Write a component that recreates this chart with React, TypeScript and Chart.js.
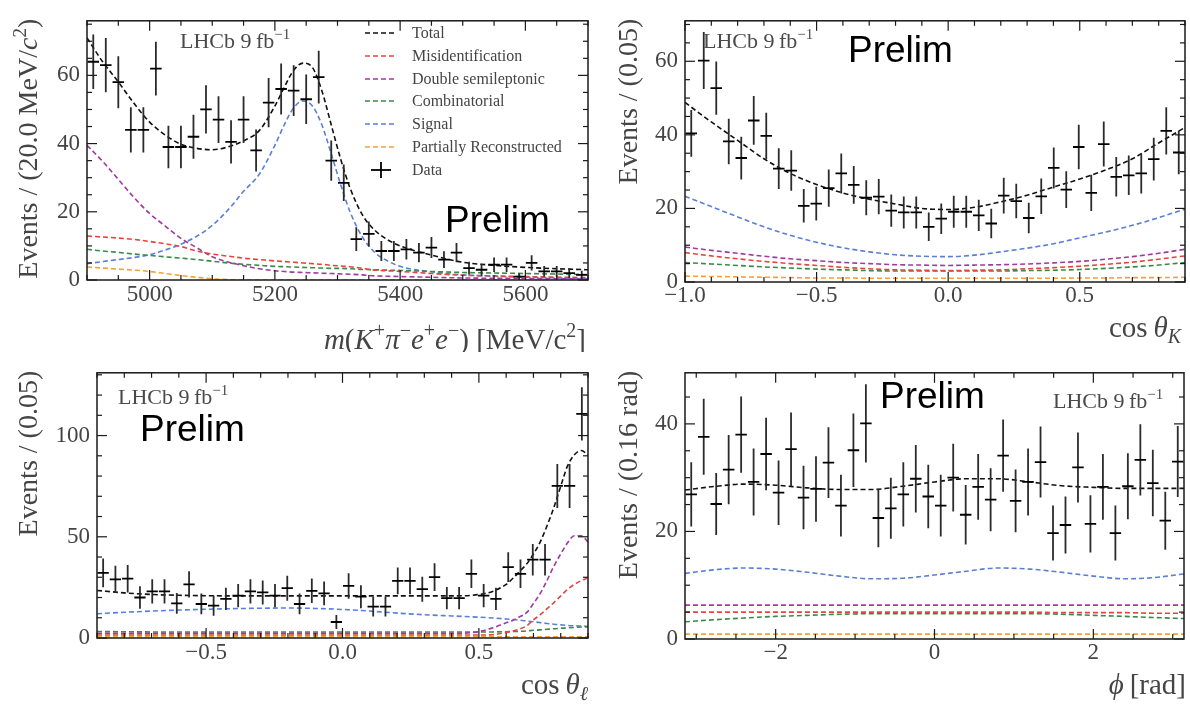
import React, { useEffect, useRef } from 'react';
import { Chart, registerables } from 'chart.js';

Chart.register(...registerables);

const SERIF = '"Liberation Serif", "DejaVu Serif", serif';
const SANS = '"Liberation Sans", Arial, sans-serif';
const TEXT_GREY = '#454545';

// ---------------- shared legend ----------------
const componentLabels = ['Total', 'Misidentification', 'Double semileptonic', 'Combinatorial', 'Signal', 'Partially Reconstructed'];
const componentColours = ['#111111', '#e4463e', '#a03a9e', '#3a8a48', '#5a7fd6', '#f2a23a'];

// ---------------- panel 1 : m(K pi e e) ----------------
const massRange = [4900, 5700];
const massCounts = [64, 63, 58, 44, 44, 62, 39, 39, 42, 50, 47, 40.5, 47, 38, 52, 56, 55.5, 53, 59.5, 35, 28.5, 12, 13.5, 8.5, 8.5, 9, 8, 9.5, 6, 8, 3.5, 3, 4.5, 4.5, 1, 5, 2.5, 2.5, 2, 1.5];
const massXTicks = [5000, 5200, 5400, 5600];
const massYTicks = [0, 20, 40, 60];
const massCurveX = [4900, 4925, 4950, 4975, 5000, 5025, 5050, 5075, 5100, 5125, 5150, 5175, 5200, 5215, 5230, 5245, 5260, 5275, 5290, 5305, 5320, 5340, 5360, 5380, 5400, 5450, 5500, 5550, 5600, 5650, 5700];
const massTotal = [71, 64, 58.1, 51.8, 46.3, 42.5, 39.8, 38.6, 38.2, 39, 40.8, 43.8, 51, 56.5, 61.5, 63.6, 62.3, 55.5, 45.5, 35.5, 27, 19, 14.5, 11.8, 10, 7.3, 5.2, 4.3, 3.7, 3.3, 3.0];
const massMisid = [12.9, 12.6, 12.3, 11.9, 11.3, 10.6, 9.8, 8.5, 7.6, 7.0, 6.4, 6.0, 5.6, 5.4, 5.2, 5.0, 4.8, 4.6, 4.3, 4.1, 3.9, 3.4, 2.9, 2.7, 2.5, 1.9, 1.4, 1.2, 1.0, 0.85, 0.7];
const massDoubleSL = [39.5, 34.8, 29.5, 24.2, 19.5, 15.8, 12.2, 9.5, 6.8, 5.3, 4.2, 3.3, 2.7, 2.5, 2.3, 2.2, 2.1, 2.0, 1.9, 1.8, 1.7, 1.5, 1.2, 1.1, 1.0, 0.8, 0.6, 0.5, 0.45, 0.38, 0.3];
const massComb = [9.0, 8.5, 8.1, 7.6, 7.2, 6.8, 6.4, 6.0, 5.5, 5.0, 4.6, 4.3, 4.0, 3.9, 3.8, 3.7, 3.6, 3.5, 3.4, 3.4, 3.3, 3.1, 3.0, 2.9, 2.8, 2.5, 2.2, 2.05, 1.9, 1.75, 1.6];
const massSignal = [4.8, 5.4, 6.0, 6.6, 7.4, 8.8, 10.5, 12.8, 16, 20.5, 26, 31, 39.5, 45.5, 50.5, 52.5, 51, 45.5, 37, 28, 20, 12.5, 8.0, 5.6, 4.0, 2.4, 1.5, 1.1, 0.8, 0.6, 0.4];
const massPartReco = [3.8, 3.5, 3.2, 2.9, 2.5, 1.9, 1.3, 0.8, 0.35, 0.1, 0, 0, 0, 0, 0, 0, 0, 0, 0, 0, 0, 0, 0, 0, 0, 0, 0, 0, 0, 0, 0];

// ---------------- panel 2 : cos theta_K ----------------
const cosKRange = [-1.0, 0.9];
const cosKCounts = [40.4, 60.2, 52.7, 38.2, 33.7, 43.9, 39.7, 30.8, 30.3, 20.7, 21.3, 25.5, 29.5, 26.4, 22.9, 23.2, 19.4, 18.9, 18.9, 15, 17.2, 19.1, 19.1, 18.1, 15.9, 23.5, 22, 17.4, 23.3, 31, 25.1, 36.7, 24.2, 37.5, 28.6, 29, 29.5, 33.4, 41.1, 35.2];
const cosKXTicks = [-1.0, -0.5, 0.0, 0.5];
const cosKYTicks = [0, 20, 40, 60];
const cosKCurveX = [-1.0, -0.9, -0.8, -0.7, -0.6, -0.5, -0.4, -0.3, -0.2, -0.1, 0.0, 0.1, 0.2, 0.3, 0.4, 0.5, 0.6, 0.7, 0.8, 0.9];
const cosKTotal = [48.8, 43.5, 38.5, 33.5, 29.5, 26.5, 24.2, 22.5, 21.2, 20.0, 19.7, 20.3, 21.8, 23.6, 25.8, 28, 30.5, 33.5, 37.8, 42];
const cosKMisid = [8.0, 7.1, 6.3, 5.6, 5.0, 4.5, 4.0, 3.6, 3.3, 3.2, 3.1, 3.2, 3.3, 3.6, 3.9, 4.3, 4.8, 5.4, 6.2, 7.1];
const cosKDoubleSL = [9.5, 8.6, 7.8, 7.0, 6.3, 5.8, 5.3, 5.0, 4.7, 4.6, 4.5, 4.6, 4.7, 4.9, 5.2, 5.6, 6.2, 6.9, 7.8, 8.9];
const cosKComb = [5.3, 4.9, 4.5, 4.1, 3.8, 3.5, 3.3, 3.1, 3.0, 3.0, 3.0, 3.0, 3.0, 3.1, 3.2, 3.4, 3.7, 4.1, 4.6, 5.3];
const cosKSignal = [23.3, 20.5, 17.7, 15.0, 12.7, 10.8, 9.3, 8.2, 7.4, 7.0, 6.9, 7.3, 8.2, 9.2, 10.4, 12.0, 13.6, 15.4, 17.5, 19.8];
const cosKPartReco = [1.6, 1.5, 1.4, 1.3, 1.2, 1.1, 1.1, 1.0, 1.0, 1.0, 1.0, 1.0, 1.0, 1.0, 1.0, 1.1, 1.1, 1.2, 1.2, 1.3];

// ---------------- panel 3 : cos theta_l ----------------
const cosLRange = [-0.9, 0.9];
const cosLCounts = [32.2, 29, 29.3, 20, 23, 23, 17.1, 26.5, 16.8, 16, 19.3, 20.9, 23, 22.5, 20.9, 24.6, 16.8, 23.3, 22, 7.9, 25.7, 20.4, 15.5, 15.5, 28.2, 28.2, 24.1, 30.1, 19.7, 19.7, 31.7, 20.9, 19.3, 35, 31.7, 38.7, 38.7, 75.1, 75.1, 110.7];
const cosLXTicks = [-0.5, 0.0, 0.5];
const cosLYTicks = [0, 50, 100];
const cosLCurveX = [-0.9, -0.8, -0.7, -0.6, -0.5, -0.4, -0.3, -0.2, -0.1, 0.0, 0.1, 0.2, 0.3, 0.4, 0.45, 0.5, 0.55, 0.6, 0.625, 0.65, 0.675, 0.7, 0.725, 0.75, 0.775, 0.8, 0.825, 0.85, 0.875, 0.9];
const cosLTotal = [23.5, 22.3, 21.5, 21.1, 20.9, 20.8, 20.8, 20.8, 20.8, 20.8, 20.8, 20.8, 20.8, 20.8, 20.9, 21.5, 23, 26.5, 29.5, 33, 36.5, 41.5, 47.5, 55.5, 64.5, 75, 85, 90.5, 92.6, 90.5];
const cosLMisid = [1.5, 1.5, 1.5, 1.5, 1.5, 1.5, 1.5, 1.5, 1.5, 1.5, 1.5, 1.5, 1.5, 1.5, 1.5, 1.5, 1.6, 2.8, 3.5, 4.5, 6, 9, 11.5, 14.5, 17.5, 20.8, 24, 26.5, 28.3, 29.8];
const cosLDoubleSL = [2.3, 2.3, 2.3, 2.3, 2.3, 2.3, 2.3, 2.3, 2.3, 2.3, 2.3, 2.3, 2.3, 2.3, 2.4, 3.2, 5, 7.5, 8.8, 10.5, 12.5, 17, 22, 28.5, 35.5, 41.5, 47, 50.5, 50.5, 47.5];
const cosLComb = [3.2, 3.1, 3.0, 3.0, 3.0, 3.0, 3.0, 3.0, 3.0, 3.0, 3.0, 3.0, 3.0, 3.0, 3.0, 3.0, 3.0, 3.1, 3.2, 3.3, 3.5, 3.8, 4.0, 4.3, 4.6, 4.8, 5.0, 5.2, 5.4, 5.5];
const cosLSignal = [12, 12.7, 13.3, 13.8, 14.2, 14.5, 14.7, 14.8, 14.6, 14.1, 13.3, 12.3, 11.5, 10.9, 10.6, 10.3, 9.9, 9.4, 9.1, 8.8, 8.4, 8.0, 7.6, 7.2, 6.8, 6.5, 6.2, 6.0, 5.9, 5.8];
const cosLPartReco = [0.6, 0.6, 0.6, 0.6, 0.6, 0.6, 0.6, 0.6, 0.6, 0.6, 0.6, 0.6, 0.6, 0.6, 0.6, 0.6, 0.6, 0.6, 0.6, 0.6, 0.6, 0.6, 0.6, 0.6, 0.6, 0.6, 0.6, 0.6, 0.6, 0.6];

// ---------------- panel 4 : phi ----------------
const phiRange = [-Math.PI, Math.PI];
const phiCounts = [26.9, 37.6, 25.1, 31.5, 38, 29.2, 34.4, 27.2, 35.3, 26.3, 27.9, 32.8, 24.8, 35.1, 40.1, 22.5, 24.3, 26.9, 29.8, 26.5, 24.8, 30, 23.1, 28.3, 25.9, 34.1, 25.7, 29.2, 32.9, 19.7, 21.2, 31.9, 21.4, 28.3, 19.7, 28.4, 33.3, 29, 22, 33];
const phiXTicks = [-2, 0, 2];
const phiYTicks = [0, 20, 40];
const phiCurveX = [-3.1416, -2.75, -2.4, -2.0, -1.6, -1.2, -0.8, -0.4, 0, 0.4, 0.8, 1.2, 1.6, 2.0, 2.4, 2.75, 3.1416];
const phiTotal = [27.7, 28.4, 28.8, 28.6, 28.1, 27.8, 27.8, 28.4, 29.2, 29.8, 29.8, 29.2, 28.5, 28.2, 28.0, 28.0, 28.0];
const phiMisid = [5.0, 5.0, 5.0, 5.0, 5.0, 5.0, 5.0, 5.0, 5.0, 5.0, 5.0, 5.0, 4.9, 4.9, 4.9, 4.8, 4.8];
const phiDoubleSL = [6.3, 6.3, 6.3, 6.3, 6.3, 6.3, 6.3, 6.3, 6.3, 6.3, 6.3, 6.3, 6.3, 6.3, 6.3, 6.3, 6.3];
const phiComb = [3.2, 3.6, 3.9, 4.2, 4.4, 4.6, 4.7, 4.7, 4.7, 4.7, 4.7, 4.7, 4.6, 4.4, 4.2, 4.0, 3.8];
const phiSignal = [12.2, 12.9, 13.2, 13.0, 12.4, 11.7, 11.2, 11.3, 11.9, 12.6, 13.2, 13.0, 12.4, 11.7, 11.2, 11.4, 12.1];
const phiPartReco = [0.9, 0.9, 0.9, 0.9, 0.9, 0.9, 0.9, 0.9, 0.9, 0.9, 0.9, 0.9, 0.9, 0.9, 0.9, 0.9, 0.9];

// ---------------- helpers ----------------
type Seg = { t: string; it?: boolean; sup?: boolean; sub?: boolean };

function binCenters(range: number[], n: number) {
  const w = (range[1] - range[0]) / n;
  return Array.from({ length: n }, (_, i) => range[0] + w * (i + 0.5));
}

const fmtDec = (v: number) => (v < 0 ? '\u2212' : '') + Math.abs(v).toFixed(1);
const fmtInt = (v: number) => (v < 0 ? '\u2212' : '') + String(Math.abs(Math.round(v)));

function drawRich(ctx: CanvasRenderingContext2D, segs: Seg[], x: number, y: number, size: number, align: string, color: string) {
  const small = Math.round(size * 0.68);
  const fontOf = (s: Seg) => `${s.it ? 'italic ' : ''}${s.sup || s.sub ? small : size}px ${SERIF}`;
  const widths = segs.map((s) => {
    ctx.font = fontOf(s);
    return ctx.measureText(s.t).width;
  });
  const total = widths.reduce((a, b) => a + b, 0);
  let cx = align === 'right' ? x - total : x;
  ctx.fillStyle = color;
  ctx.textAlign = 'left';
  ctx.textBaseline = 'alphabetic';
  segs.forEach((s, i) => {
    ctx.font = fontOf(s);
    const dy = s.sup ? -size * 0.4 : s.sub ? size * 0.22 : 0;
    ctx.fillText(s.t, cx, y + dy);
    cx += widths[i];
  });
}

const lhcbSegs: Seg[] = [{ t: 'LHCb 9\u2009fb' }, { t: '\u22121', sup: true }];

const PANELS = [
  {
    left: 0, top: 0, w: 595, h: 352, area: [87, 13, 588, 280],
    range: massRange, yMax: 76, counts: massCounts, errScale: 1,
    xTicks: massXTicks, yTicks: massYTicks, xMinor: 50, yMinor: 5, fmtX: fmtInt, xPad: 1,
    curveX: massCurveX, curves: [massTotal, massMisid, massDoubleSL, massComb, massSignal, massPartReco],
    yTitle: [{ t: 'Events / (20.0 MeV/' }, { t: 'c', it: true }, { t: '2', sup: true }, { t: ')' }] as Seg[],
    yTitleX: 27,
    xTitle: [{ t: 'm', it: true }, { t: '(' }, { t: 'K', it: true }, { t: '+', sup: true }, { t: '\u03c0', it: true }, { t: '\u2212', sup: true }, { t: 'e', it: true }, { t: '+', sup: true }, { t: 'e', it: true }, { t: '\u2212', sup: true }, { t: ') [MeV/c' }, { t: '2', sup: true }, { t: ']' }] as Seg[],
    xTitleRight: 586, xTitleBase: 349,
    lhcb: [180, 48], prelim: [445, 232], legend: true,
  },
  {
    left: 595, top: 0, w: 595, h: 352, area: [90, 13, 590, 282],
    range: cosKRange, yMax: 71, counts: cosKCounts, errScale: 1,
    xTicks: cosKXTicks, yTicks: cosKYTicks, xMinor: 0.1, yMinor: 5, fmtX: fmtDec, xPad: 0,
    curveX: cosKCurveX, curves: [cosKTotal, cosKMisid, cosKDoubleSL, cosKComb, cosKSignal, cosKPartReco],
    yTitle: [{ t: 'Events / (0.05)' }] as Seg[],
    yTitleX: 32,
    xTitle: [{ t: 'cos\u2009' }, { t: '\u03b8', it: true }, { t: 'K', it: true, sub: true }] as Seg[],
    xTitleRight: 586, xTitleBase: 337,
    lhcb: [108, 48], prelim: [253, 62], legend: false,
  },
  {
    left: 0, top: 352, w: 595, h: 353, area: [97, 16, 588, 286],
    range: cosLRange, yMax: 131, counts: cosLCounts, errScale: 1.25,
    xTicks: cosLXTicks, yTicks: cosLYTicks, xMinor: 0.1, yMinor: 10, fmtX: fmtDec, xPad: 1,
    curveX: cosLCurveX, curves: [cosLTotal, cosLMisid, cosLDoubleSL, cosLComb, cosLSignal, cosLPartReco],
    yTitle: [{ t: 'Events / (0.05)' }] as Seg[],
    yTitleX: 27,
    xTitle: [{ t: 'cos\u2009' }, { t: '\u03b8', it: true }, { t: '\u2113', it: true, sub: true }] as Seg[],
    xTitleRight: 588, xTitleBase: 342,
    lhcb: [118, 52], prelim: [140, 89], legend: false,
  },
  {
    left: 595, top: 352, w: 595, h: 353, area: [90, 16, 589, 287],
    range: phiRange, yMax: 49.5, counts: phiCounts, errScale: 1.15,
    xTicks: phiXTicks, yTicks: phiYTicks, xMinor: 0.5, yMinor: 5, fmtX: fmtInt, xPad: 0,
    curveX: phiCurveX, curves: [phiTotal, phiMisid, phiDoubleSL, phiComb, phiSignal, phiPartReco],
    yTitle: [{ t: 'Events / (0.16 rad)' }] as Seg[],
    yTitleX: 32,
    xTitle: [{ t: '\u03d5', it: true }, { t: '\u2009[rad]' }] as Seg[],
    xTitleRight: 591, xTitleBase: 342,
    lhcb: [458, 56], prelim: [285, 56], legend: false,
  },
];

function line(ctx: CanvasRenderingContext2D, x1: number, y1: number, x2: number, y2: number) {
  ctx.beginPath();
  ctx.moveTo(x1, y1);
  ctx.lineTo(x2, y2);
  ctx.stroke();
}

function buildConfig(p: any) {
  const n = p.counts.length;
  const centers = binCenters(p.range, n);
  const bw = (p.range[1] - p.range[0]) / n;
  const errs = p.counts.map((v: number) => Math.sqrt(Math.max(v, 1)) * p.errScale);

  const curveSets = p.curves.map((c: number[], i: number) => ({
    label: componentLabels[i],
    data: p.curveX.map((x: number, j: number) => ({ x, y: c[j] })),
    showLine: true,
    borderColor: componentColours[i],
    backgroundColor: componentColours[i],
    borderWidth: 1.6,
    borderDash: [5, 3],
    pointRadius: 0,
    cubicInterpolationMode: 'monotone',
    fill: false,
  }));
  const dataSet = {
    label: 'Data',
    data: centers.map((x: number, i: number) => ({ x, y: p.counts[i] })),
    showLine: false,
    pointRadius: 0,
    borderColor: '#000',
    backgroundColor: '#000',
  };

  const deco = {
    id: 'panelDeco',
    afterDatasetsDraw(chart: any) {
      const ctx = chart.ctx as CanvasRenderingContext2D;
      const a = chart.chartArea;
      const xs = chart.scales.x;
      const ys = chart.scales.y;
      const idx = chart.data.datasets.findIndex((d: any) => d.label === 'Data');
      const meta = chart.getDatasetMeta(idx);
      ctx.save();
      ctx.beginPath();
      ctx.rect(a.left, a.top, a.right - a.left, a.bottom - a.top);
      ctx.clip();
      ctx.setLineDash([]);
      meta.data.forEach((pt: any, i: number) => {
        const c = centers[i];
        const v = p.counts[i];
        const e = errs[i];
        const xl = xs.getPixelForValue(c - bw / 2) + 0.5;
        const xr = xs.getPixelForValue(c + bw / 2) - 0.5;
        ctx.strokeStyle = '#2b2b2b';
        ctx.lineWidth = 1.8;
        line(ctx, pt.x, ys.getPixelForValue(v + e), pt.x, ys.getPixelForValue(v - e));
        ctx.strokeStyle = '#000';
        ctx.lineWidth = 1.8;
        line(ctx, xl, pt.y, xr, pt.y);
      });
      ctx.restore();
    },
    afterDraw(chart: any) {
      const ctx = chart.ctx as CanvasRenderingContext2D;
      const a = chart.chartArea;
      const xs = chart.scales.x;
      const ys = chart.scales.y;
      ctx.save();
      ctx.setLineDash([]);
      ctx.strokeStyle = '#1a1a1a';
      ctx.lineWidth = 1.2;
      const minors = (lo: number, hi: number, step: number, majors: number[]) => {
        const out: number[] = [];
        const k0 = Math.ceil(lo / step - 1e-6);
        const k1 = Math.floor(hi / step + 1e-6);
        for (let k = k0; k <= k1; k++) {
          const v = k * step;
          if (!majors.some((m) => Math.abs(m - v) < step * 1e-3)) out.push(v);
        }
        return out;
      };
      const xt = (v: number, len: number) => {
        const px = xs.getPixelForValue(v);
        line(ctx, px, a.bottom, px, a.bottom - len);
        line(ctx, px, a.top, px, a.top + len);
      };
      const yt = (v: number, len: number) => {
        const py = ys.getPixelForValue(v);
        line(ctx, a.left, py, a.left + len, py);
        line(ctx, a.right, py, a.right - len, py);
      };
      p.xTicks.forEach((v: number) => xt(v, 10));
      minors(p.range[0], p.range[1], p.xMinor, p.xTicks).forEach((v) => xt(v, 5));
      p.yTicks.forEach((v: number) => yt(v, 10));
      minors(0, p.yMax, p.yMinor, p.yTicks).forEach((v) => yt(v, 5));
      ctx.lineWidth = 1.5;
      ctx.strokeRect(a.left, a.top, a.right - a.left, a.bottom - a.top);

      // axis titles
      ctx.save();
      ctx.translate(p.yTitleX, a.top - 2);
      ctx.rotate(-Math.PI / 2);
      drawRich(ctx, p.yTitle, 0, 10, 28, 'right', TEXT_GREY);
      ctx.restore();
      drawRich(ctx, p.xTitle, p.xTitleRight, p.xTitleBase, 29, 'right', TEXT_GREY);

      // LHCb label
      drawRich(ctx, lhcbSegs, p.lhcb[0], p.lhcb[1], 22, 'left', '#4a4a4a');

      // Prelim
      ctx.fillStyle = '#000';
      ctx.font = `37px ${SANS}`;
      ctx.textAlign = 'left';
      ctx.textBaseline = 'alphabetic';
      ctx.fillText('Prelim', p.prelim[0], p.prelim[1]);

      // legend
      if (p.legend) {
        const rows = [33, 56, 79, 101, 124, 147, 170];
        ctx.font = `16px ${SERIF}`;
        componentLabels.forEach((lab, i) => {
          ctx.strokeStyle = componentColours[i];
          ctx.lineWidth = 1.6;
          ctx.setLineDash([5, 3]);
          line(ctx, 365, rows[i], 397, rows[i]);
          ctx.setLineDash([]);
          ctx.fillStyle = TEXT_GREY;
          ctx.textBaseline = 'middle';
          ctx.fillText(lab, 412, rows[i] + 1);
        });
        const ry = rows[6];
        ctx.setLineDash([]);
        ctx.strokeStyle = '#000';
        ctx.lineWidth = 1.8;
        line(ctx, 371, ry, 391, ry);
        line(ctx, 381, ry - 8, 381, ry + 8);
        ctx.fillStyle = TEXT_GREY;
        ctx.textBaseline = 'middle';
        ctx.fillText('Data', 412, ry + 1);
      }
      ctx.restore();
    },
  };

  return {
    type: 'scatter',
    data: { datasets: [...curveSets, dataSet] },
    options: {
      animation: false,
      responsive: false,
      devicePixelRatio: 1,
      events: [],
      layout: { padding: { left: 0, top: p.area[1], right: p.w - p.area[2], bottom: 0 } },
      plugins: { legend: { display: false }, tooltip: { enabled: false }, title: { display: false } },
      scales: {
        x: {
          type: 'linear',
          min: p.range[0],
          max: p.range[1],
          grid: { display: false, drawTicks: false },
          border: { display: false },
          ticks: {
            font: { family: SERIF, size: 23 },
            color: '#444',
            padding: p.xPad,
            maxRotation: 0,
            autoSkip: false,
            callback: (v: number) => p.fmtX(v),
          },
          afterBuildTicks: (s: any) => {
            s.ticks = p.xTicks.map((v: number) => ({ value: v }));
          },
          afterFit: (s: any) => {
            s.height = p.h - p.area[3];
          },
        },
        y: {
          type: 'linear',
          min: 0,
          max: p.yMax,
          grid: { display: false, drawTicks: false },
          border: { display: false },
          ticks: {
            font: { family: SERIF, size: 23 },
            color: '#444',
            padding: 7,
            autoSkip: false,
            callback: (v: number) => fmtInt(v),
          },
          afterBuildTicks: (s: any) => {
            s.ticks = p.yTicks.map((v: number) => ({ value: v }));
          },
          afterFit: (s: any) => {
            s.width = p.area[0];
          },
        },
      },
    },
    plugins: [deco],
  };
}

function Panel({ spec }: { spec: any }) {
  const ref = useRef<HTMLCanvasElement>(null);
  useEffect(() => {
    const chart = new Chart(ref.current as HTMLCanvasElement, buildConfig(spec) as any);
    return () => chart.destroy();
  }, [spec]);
  return (
    <canvas
      ref={ref}
      width={spec.w}
      height={spec.h}
      style={{ position: 'absolute', left: spec.left, top: spec.top, width: spec.w, height: spec.h }}
    />
  );
}

export default function App() {
  return (
    <div style={{ position: 'absolute', left: 0, top: 0, width: 1190, height: 705, background: '#fff', overflow: 'hidden' }}>
      {PANELS.map((s, i) => (
        <Panel key={i} spec={s} />
      ))}
    </div>
  );
}
